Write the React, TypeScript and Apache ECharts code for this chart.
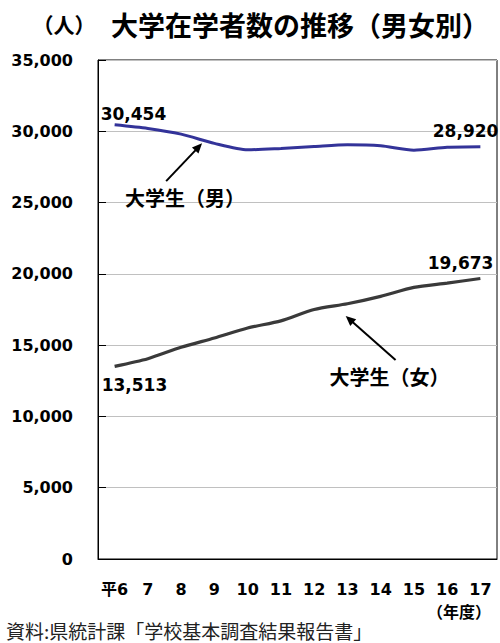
import React, { useEffect, useRef } from 'react';
import * as echarts from 'echarts';

// ---- data ----
const categories = ['平6', '7', '8', '9', '10', '11', '12', '13', '14', '15', '16', '17'];
const maleValues = [30454, 30200, 29800, 29150, 28700, 28800, 28930, 29050, 28980, 28670, 28880, 28920];
const femaleValues = [13513, 14050, 14850, 15500, 16200, 16700, 17500, 17900, 18420, 19050, 19350, 19673];
const yMin = 0;
const yMax = 35000;
const yInterval = 5000;

const titleText = '大学在学者数の推移（男女別）';
const unitText = '（人）';
const xUnitText = '（年度）';
const sourceText = '資料:県統計課「学校基本調査結果報告書」';
const maleName = '大学生（男）';
const femaleName = '大学生（女）';

// annotation anchors in data space: [category index (fractional), value]
const maleArrowTail = [1.55, 26500];
const maleArrowHead = [2.63, 29160];
const maleTextAnchor = [2.12, 25350];
const femaleArrowTail = [8.45, 13960];
const femaleArrowHead = [6.95, 17040];
const femaleTextAnchor = [8.27, 12790];

const NUM_FONT = "'DejaVu Sans', 'Noto Sans CJK JP', sans-serif";
const CJK_FONT = "'Noto Sans CJK JP', sans-serif";

const fmt = (v: number) => Number(v).toLocaleString('en-US');

export default function App() {
  const ref = useRef<HTMLDivElement>(null);

  useEffect(() => {
    document.body.style.margin = '0';
    const chart = echarts.init(ref.current!, null, { renderer: 'svg' });

    const pointLabel = (idx: number, arr: number[], align: string, offset: number[]) => ({
      coord: [idx, arr[idx]],
      value: arr[idx],
      label: { align, offset },
    });

    const markPointBase = {
      symbol: 'circle',
      symbolSize: 0,
      label: {
        show: true,
        position: 'inside',
        verticalAlign: 'middle',
        color: '#000',
        fontFamily: NUM_FONT,
        fontWeight: 'bold',
        fontSize: 17,
        formatter: (p: any) => fmt(p.value),
      },
    };

    const last = categories.length - 1;

    chart.setOption({
      animation: false,
      backgroundColor: '#ffffff',
      grid: {
        left: 98,
        right: 3,
        top: 60,
        bottom: 84,
        show: true,
        borderColor: '#000',
        borderWidth: 1,
      },
      xAxis: {
        type: 'category',
        data: categories,
        boundaryGap: true,
        axisLine: { lineStyle: { color: '#000', width: 1 } },
        axisTick: { inside: true, length: 4, lineStyle: { color: '#000' } },
        axisLabel: {
          interval: 0,
          color: '#000',
          fontFamily: NUM_FONT,
          fontWeight: 'bold',
          fontSize: 16,
          margin: 22,
        },
      },
      yAxis: {
        type: 'value',
        min: yMin,
        max: yMax,
        interval: yInterval,
        axisLine: { show: true, lineStyle: { color: '#000', width: 1 } },
        axisTick: { show: true, inside: true, length: 8, lineStyle: { color: '#000' } },
        splitLine: { lineStyle: { color: '#c0c0c0', width: 1 } },
        axisLabel: {
          color: '#000',
          fontFamily: NUM_FONT,
          fontWeight: 'bold',
          fontSize: 16,
          margin: 25,
          formatter: (v: number) => fmt(v),
        },
      },
      series: [
        {
          name: maleName,
          type: 'line',
          data: maleValues,
          smooth: 0.25,
          symbol: 'none',
          lineStyle: { color: '#333399', width: 3 },
          markPoint: {
            ...markPointBase,
            data: [
              pointLabel(0, maleValues, 'left', [-14, -11]),
              pointLabel(last, maleValues, 'right', [18, -16]),
            ],
          },
        },
        {
          name: femaleName,
          type: 'line',
          data: femaleValues,
          smooth: 0.25,
          symbol: 'none',
          lineStyle: { color: '#3a3a3a', width: 3.2 },
          markPoint: {
            ...markPointBase,
            data: [
              pointLabel(0, femaleValues, 'left', [-13, 19]),
              pointLabel(last, femaleValues, 'right', [13, -16]),
            ],
          },
        },
      ],
    });

    const toPx = (pt: number[]) => {
      const p0 = chart.convertToPixel({ gridIndex: 0 } as any, [0, pt[1]]) as number[];
      const p1 = chart.convertToPixel({ gridIndex: 0 } as any, [1, pt[1]]) as number[];
      return [p0[0] + (p1[0] - p0[0]) * pt[0], p0[1]];
    };

    const arrow = (tail: number[], head: number[]) => {
      const t = toPx(tail);
      const h = toPx(head);
      const dx = h[0] - t[0];
      const dy = h[1] - t[1];
      const len = Math.sqrt(dx * dx + dy * dy);
      const ux = dx / len;
      const uy = dy / len;
      const L = 10;
      const W = 4.5;
      const bx = h[0] - ux * L;
      const by = h[1] - uy * L;
      return [
        {
          type: 'line',
          shape: { x1: t[0], y1: t[1], x2: bx + ux * 2, y2: by + uy * 2 },
          style: { stroke: '#000', lineWidth: 2 },
          z: 10,
        },
        {
          type: 'polygon',
          shape: {
            points: [
              [h[0], h[1]],
              [bx - uy * W, by + ux * W],
              [bx + uy * W, by - ux * W],
            ],
          },
          style: { fill: '#000' },
          z: 10,
        },
      ];
    };

    const mt = toPx(maleTextAnchor);
    const ft = toPx(femaleTextAnchor);

    chart.setOption({
      graphic: [
        {
          type: 'text',
          x: 64,
          y: 24,
          style: {
            text: unitText,
            fill: '#000',
            font: `bold 21px ${CJK_FONT}`,
            textAlign: 'center',
            textVerticalAlign: 'middle',
          },
        },
        {
          type: 'text',
          x: 111,
          y: 24,
          style: {
            text: titleText,
            fill: '#000',
            font: `bold 27px ${CJK_FONT}`,
            textAlign: 'left',
            textVerticalAlign: 'middle',
          },
        },
        {
          type: 'text',
          x: 491,
          y: 611,
          style: {
            text: xUnitText,
            fill: '#000',
            font: `bold 16px ${CJK_FONT}`,
            textAlign: 'right',
            textVerticalAlign: 'middle',
          },
        },
        {
          type: 'text',
          x: 6,
          y: 630,
          style: {
            text: sourceText,
            fill: '#222',
            font: `19px ${CJK_FONT}`,
            textAlign: 'left',
            textVerticalAlign: 'middle',
          },
        },
        {
          type: 'text',
          x: mt[0],
          y: mt[1],
          style: {
            text: maleName,
            fill: '#000',
            font: `bold 20px ${CJK_FONT}`,
            textAlign: 'center',
            textVerticalAlign: 'middle',
          },
          z: 10,
        },
        {
          type: 'text',
          x: ft[0],
          y: ft[1],
          style: {
            text: femaleName,
            fill: '#000',
            font: `bold 20px ${CJK_FONT}`,
            textAlign: 'center',
            textVerticalAlign: 'middle',
          },
          z: 10,
        },
        ...arrow(maleArrowTail, maleArrowHead),
        ...arrow(femaleArrowTail, femaleArrowHead),
      ],
    });

    return () => {
      chart.dispose();
    };
  }, []);

  return <div ref={ref} style={{ width: 500, height: 643 }} />;
}
